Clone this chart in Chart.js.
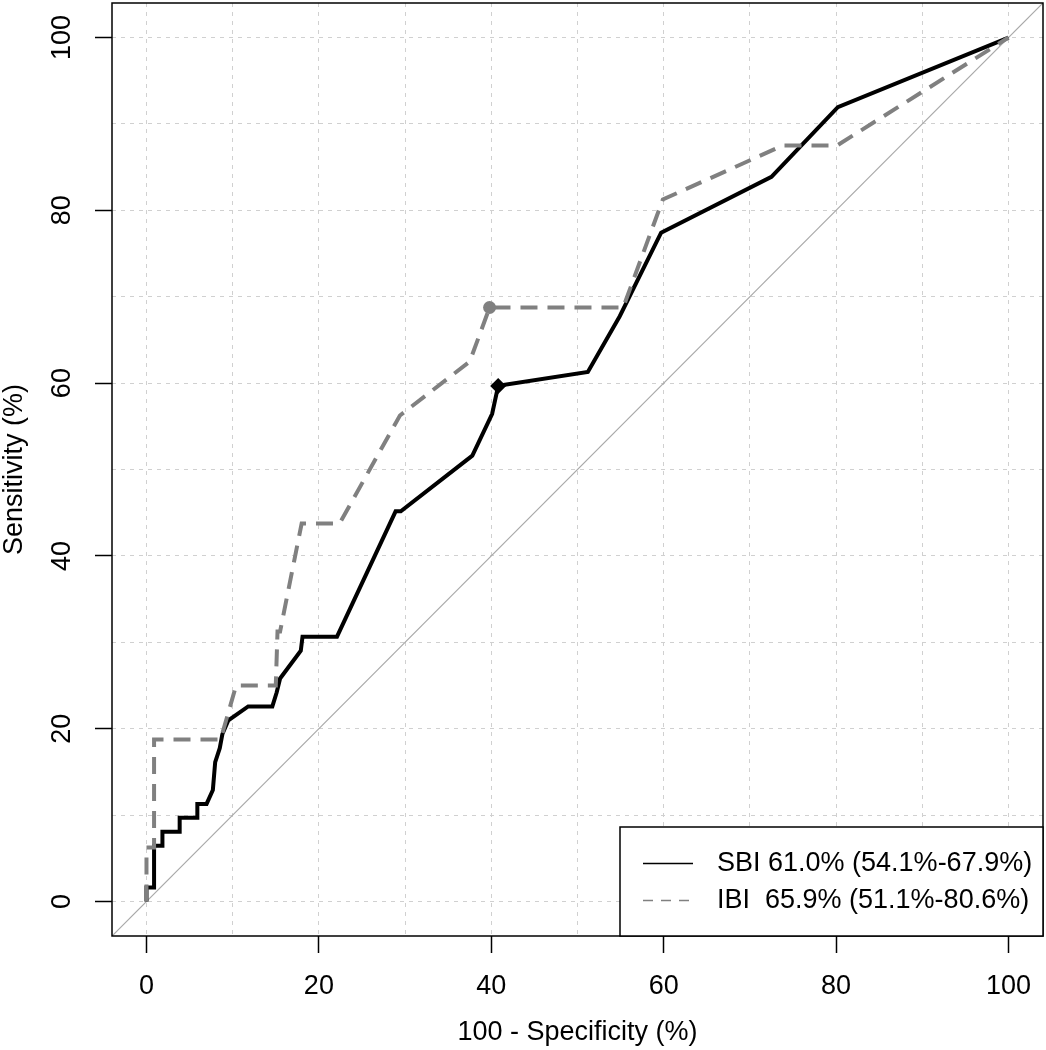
<!DOCTYPE html>
<html>
<head>
<meta charset="utf-8">
<script src="https://cdn.jsdelivr.net/npm/chart.js@4.4.1/dist/chart.umd.min.js"></script>
<style>
  body { margin: 0; background: #fff; }
</style>
</head>
<body>
<canvas id="roc" width="1046" height="1050"></canvas>
<script>
// ROC curves (x = 100 - specificity, y = sensitivity, both %)
const sbiFpr = [0, 0, 0.88, 0.88, 1.85, 1.85, 3.85, 3.85, 5.9, 5.9, 6.97, 7.7, 7.97, 8.5, 8.8, 9.5, 11.8, 14.6, 15.1, 15.5,
                17.9, 18.1, 22.1, 28.9, 29.5, 37.8, 40.1, 40.8, 51.2, 54.9, 59.7, 72.5, 80.2, 100]
const sbiTpr = [0, 1.61, 1.61, 6.45, 6.45, 8.06, 8.06, 9.68, 9.68, 11.29, 11.29, 12.9, 16.13, 17.74, 19.35, 20.97, 22.58, 22.58, 24.19, 25.81,
                29.03, 30.65, 30.65, 45.16, 45.16, 51.61, 56.45, 59.68, 61.29, 67.74, 77.42, 83.87, 91.94, 100]
const ibiFpr = [0, 0, 0.88, 0.88, 8.6, 10.4, 15.0, 15.2, 15.5, 18.0, 22.4, 29.4, 37.5, 39.8, 55.3, 59.9, 73.8, 80.1, 100]
const ibiTpr = [0, 6.25, 6.25, 18.75, 18.75, 25, 25, 31.25, 31.25, 43.75, 43.75, 56.25, 62.5, 68.75, 68.75, 81.25, 87.5, 87.5, 100]

// best cut-off points
const sbiBest = [40.8, 59.68]
const ibiBest = [39.8, 68.75]

const gridValues = [0, 10, 20, 30, 40, 50, 60, 70, 80, 90, 100]
const legendLabels = ['SBI 61.0% (54.1%-67.9%)', 'IBI  65.9% (51.1%-80.6%)']

const FONT = '"Liberation Sans", Arial, Helvetica, sans-serif'
Chart.defaults.font.family = FONT
Chart.defaults.color = '#000'

const toPoints = (xs, ys) => xs.map((x, i) => ({ x: x, y: ys[i] }))

function axis(title, vertical) {
    return {
        type: 'linear',
        min: -4,
        max: 104,
        afterBuildTicks: s => { s.ticks = gridValues.map(v => ({ value: v })) },
        afterFit: s => {
            if (vertical) s.width = 112
            else s.height = 114
            // no extra room for overhanging labels, the plot box is fixed
            s.paddingTop = s.paddingBottom = s.paddingLeft = s.paddingRight = 0
        },
        ticks: {
            autoSkip: false,
            font: { size: 27 },
            color: '#000',
            padding: vertical ? 10 : 17,
            minRotation: vertical ? 90 : 0,
            maxRotation: vertical ? 90 : 0,
            crossAlign: vertical ? 'center' : 'near',
            callback: v => v % 20 === 0 ? String(v) : ''
        },
        grid: {
            color: '#d0d0d0',
            lineWidth: 1,
            tickLength: 17,
            tickWidth: 1.5,
            tickBorderDash: [],
            tickColor: ctx => ctx.tick && ctx.tick.value % 20 === 0 ? '#000' : 'rgba(0,0,0,0)'
        },
        border: { display: false, dash: [4, 5] },
        title: {
            display: true,
            text: title,
            color: '#000',
            font: { size: 27, lineHeight: 1.1 },
            padding: vertical ? { top: 0, bottom: 0 } : { top: 0, bottom: 3 }
        }
    }
}

// box around the plot + legend in the bottom right corner
const frame = {
    id: 'frame',
    afterDatasetsDraw(chart) {
        const ctx = chart.ctx
        const a = chart.chartArea
        ctx.save()
        ctx.strokeStyle = '#000'
        ctx.lineWidth = 1.5
        ctx.strokeRect(a.left, a.top, a.right - a.left, a.bottom - a.top)

        const left = a.right - 423
        const top = a.bottom - 109
        ctx.fillStyle = '#fff'
        ctx.fillRect(left, top, a.right - left, a.bottom - top)
        ctx.strokeRect(left, top, a.right - left, a.bottom - top)

        const rows = [top + 36.5, top + 73.5]
        ctx.lineWidth = 1.5
        ctx.strokeStyle = '#000'
        ctx.setLineDash([])
        ctx.beginPath()
        ctx.moveTo(left + 23, rows[0]); ctx.lineTo(left + 73, rows[0])
        ctx.stroke()
        ctx.strokeStyle = '#808080'
        ctx.setLineDash([10, 8])
        ctx.beginPath()
        ctx.moveTo(left + 23, rows[1]); ctx.lineTo(left + 73, rows[1])
        ctx.stroke()
        ctx.setLineDash([])

        ctx.fillStyle = '#000'
        ctx.font = '27px ' + FONT
        ctx.textBaseline = 'middle'
        ctx.textAlign = 'left'
        legendLabels.forEach((t, i) => ctx.fillText(t, left + 97, rows[i]))
        ctx.restore()
    }
}

new Chart(document.getElementById('roc'), {
    type: 'scatter',
    data: {
        datasets: [
            {
                label: 'IBI best',
                data: [{ x: ibiBest[0], y: ibiBest[1] }],
                pointStyle: 'circle',
                pointRadius: 6.5,
                backgroundColor: '#808080',
                borderColor: '#808080',
                borderWidth: 0,
                order: 0
            },
            {
                label: 'SBI best',
                data: [{ x: sbiBest[0], y: sbiBest[1] }],
                pointStyle: 'rectRot',
                pointRadius: 8,
                backgroundColor: '#000',
                borderColor: '#000',
                borderWidth: 0,
                order: 1
            },
            {
                label: 'IBI',
                data: toPoints(ibiFpr, ibiTpr),
                showLine: true,
                borderColor: '#808080',
                borderWidth: 4,
                borderDash: [17, 10],
                pointRadius: 0,
                tension: 0,
                order: 2
            },
            {
                label: 'SBI',
                data: toPoints(sbiFpr, sbiTpr),
                showLine: true,
                borderColor: '#000',
                borderWidth: 4,
                pointRadius: 0,
                tension: 0,
                order: 3
            },
            {
                label: 'chance',
                data: [{ x: -4, y: -4 }, { x: 104, y: 104 }],
                showLine: true,
                borderColor: '#a8a8a8',
                borderWidth: 1.2,
                pointRadius: 0,
                order: 4
            }
        ]
    },
    options: {
        responsive: false,
        animation: false,
        layout: { autoPadding: false, padding: { top: 3, right: 3, left: 0, bottom: 0 } },
        plugins: {
            legend: { display: false },
            tooltip: { enabled: false }
        },
        scales: {
            x: axis('100 - Specificity (%)', false),
            y: axis('Sensitivity (%)', true)
        }
    },
    plugins: [frame]
})
</script>
</body>
</html>
